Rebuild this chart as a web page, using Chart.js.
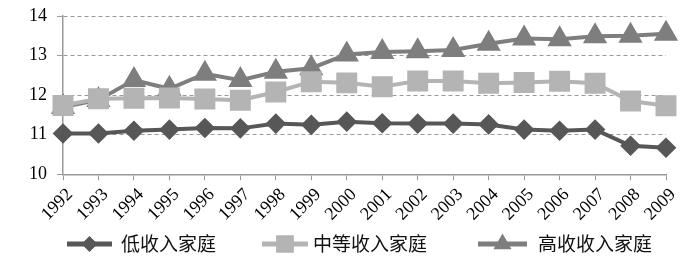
<!DOCTYPE html>
<html>
<head>
<meta charset="utf-8">
<script src="https://cdn.jsdelivr.net/npm/chart.js@4"></script>
<style>
  html, body { margin: 0; padding: 0; background: #fff; }
  #wrap { width: 700px; height: 256px; }
</style>
</head>
<body>
<div id="wrap"><canvas id="chartCanvas" width="700" height="256"></canvas></div>
<script>
const years = ["1992", "1993", "1994", "1995", "1996", "1997", "1998", "1999", "2000",
    "2001", "2002", "2003", "2004", "2005", "2006", "2007", "2008", "2009"];
const lowIncome = [11.03, 11.03, 11.10, 11.13, 11.17, 11.16, 11.28, 11.25, 11.33,
    11.29, 11.28, 11.28, 11.26, 11.13, 11.10, 11.13, 10.72, 10.67];
const midIncome = [11.74, 11.91, 11.92, 11.93, 11.90, 11.87, 12.08, 12.34, 12.31,
    12.21, 12.36, 12.36, 12.30, 12.32, 12.35, 12.30, 11.85, 11.73];
const highIncome = [11.70, 11.88, 12.38, 12.16, 12.54, 12.38, 12.59, 12.68, 13.03,
    13.09, 13.11, 13.14, 13.30, 13.43, 13.41, 13.49, 13.50, 13.55];
const seriesNames = ["低收入家庭", "中等收入家庭", "高收收入家庭"];
const yTicks = [10, 11, 12, 13, 14];

const colLow = "#575757";
const colMid = "#b4b4b4";
const colHigh = "#7e7e7e";

const chartCanvas = document.getElementById("chartCanvas").getContext("2d");

// legend under the axis: thick line with a small marker, then the text
const lineLegend = {
    id: "lineLegend",
    afterDraw(chart) {
        const c = chart.ctx;
        const y = 244;
        const items = [
            { x: 67, w: 45, tx: 121 },
            { x: 262, w: 46, tx: 313 },
            { x: 478, w: 49, tx: 538 }
        ];
        const markSize = { rectRot: 4.5, rect: 9, triangle: 5.5 };
        chart.data.datasets.forEach((ds, i) => {
            const it = items[i];
            c.save();
            c.strokeStyle = ds.borderColor;
            c.lineWidth = 5;
            c.beginPath();
            c.moveTo(it.x, y);
            c.lineTo(it.x + it.w, y);
            c.stroke();
            c.fillStyle = ds.backgroundColor;
            c.strokeStyle = ds.borderColor;
            Chart.helpers.drawPoint(c, {
                pointStyle: ds.pointStyle,
                radius: markSize[ds.pointStyle],
                borderWidth: 1
            }, it.x + it.w / 2, y);
            c.fillStyle = "#111";
            c.font = "19px 'Noto Sans CJK SC'";
            c.textBaseline = "middle";
            c.fillText(ds.label, it.tx, y);
            c.restore();
        });
    }
};

new Chart(chartCanvas, {
    type: "line",
    data: {
        labels: years,
        datasets: [
            {
                label: seriesNames[0], data: lowIncome,
                borderColor: colLow, backgroundColor: colLow,
                pointStyle: "rectRot", pointRadius: 7.5, borderWidth: 4
            },
            {
                label: seriesNames[1], data: midIncome,
                borderColor: colMid, backgroundColor: colMid,
                pointStyle: "rect", pointRadius: 12, borderWidth: 4
            },
            {
                label: seriesNames[2], data: highIncome,
                borderColor: colHigh, backgroundColor: colHigh,
                pointStyle: "triangle", pointRadius: 10, borderWidth: 4
            }
        ]
    },
    options: {
        responsive: false,
        animation: false,
        layout: { padding: { top: 16, right: 34, bottom: 27, left: 0 } },
        plugins: {
            legend: { display: false },
            tooltip: { enabled: false }
        },
        elements: { line: { tension: 0 }, point: { borderWidth: 1 } },
        scales: {
            x: {
                offset: false,
                grid: { drawOnChartArea: false, drawTicks: true, tickLength: 6, color: "#999" },
                border: { color: "#999", width: 1.5 },
                ticks: {
                    color: "#000", minRotation: 45, maxRotation: 45, padding: 4, labelOffset: 7,
                    font: { family: "'Liberation Serif'", size: 18 }
                }
            },
            y: {
                min: 10, max: 14,
                afterFit(scale) {
                    scale.width = 63;
                    scale.paddingTop = 0;
                },
                afterBuildTicks(scale) { scale.ticks = yTicks.map(v => ({ value: v })); },
                grid: { color: "#999", tickLength: 6, tickBorderDash: [], tickColor: "#999" },
                border: { color: "#999", width: 1.5, dash: [4, 3] },
                ticks: {
                    color: "#000", padding: 10,
                    font: { family: "'Liberation Serif'", size: 18 }
                }
            }
        }
    },
    plugins: [lineLegend]
});
</script>
</body>
</html>
